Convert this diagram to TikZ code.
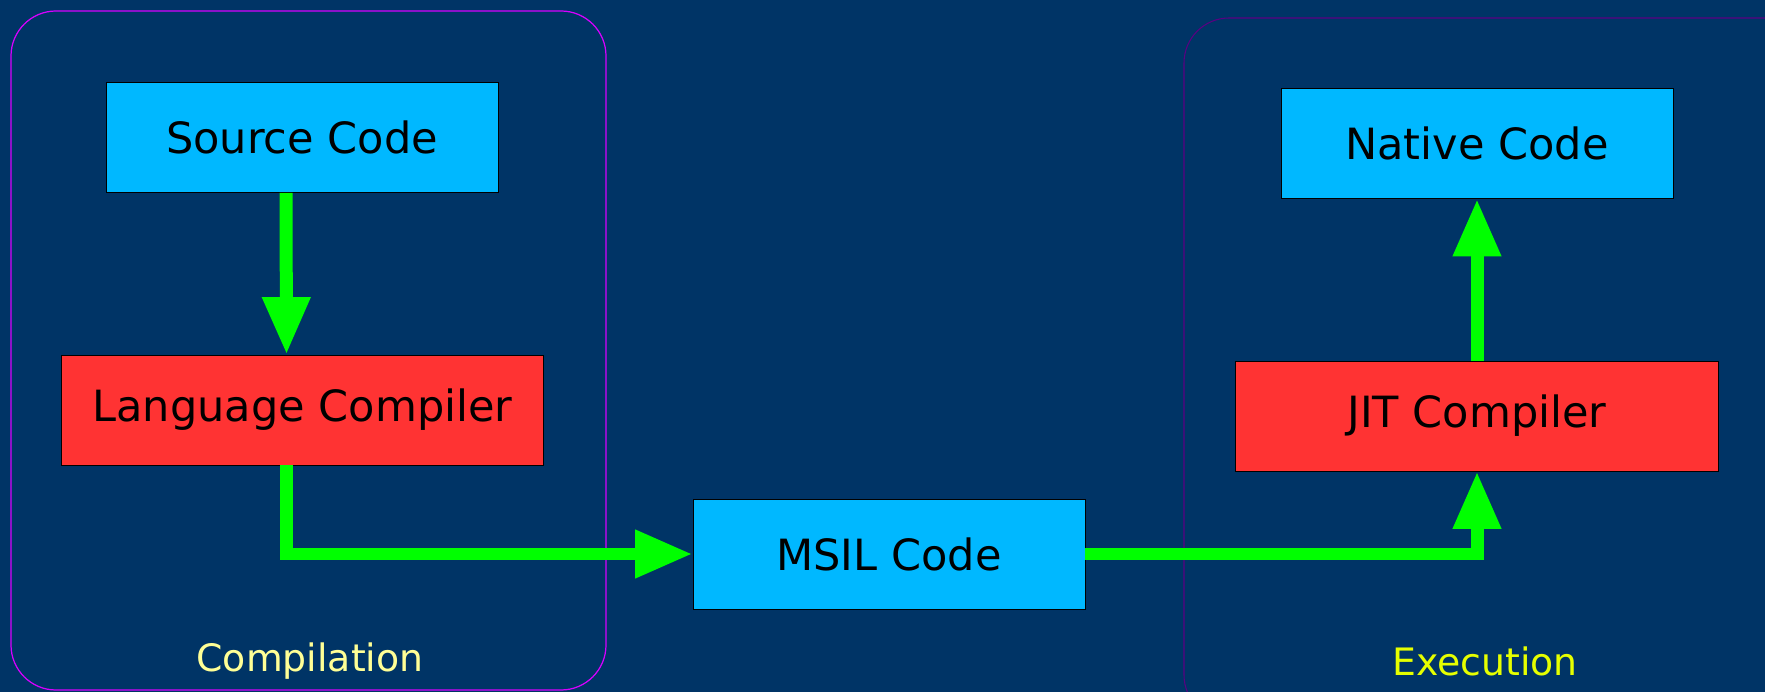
\documentclass[tikz,border=0pt]{standalone}
\usepackage{fontspec}
\setmainfont{DejaVu Sans}
\usetikzlibrary{arrows.meta}
\definecolor{bgblue}{RGB}{0,52,102}
\definecolor{codeblue}{RGB}{0,184,255}
\definecolor{compred}{RGB}{255,51,51}
\definecolor{flowgreen}{RGB}{0,255,0}
\definecolor{leftframe}{RGB}{215,0,255}
\definecolor{rightframe}{RGB}{90,0,130}
\definecolor{labyellow}{RGB}{255,255,150}
\definecolor{exyellow}{RGB}{230,255,0}
\begin{document}
\begin{tikzpicture}[x=0.02cm,y=-0.02cm,
  box/.style={draw=black,line width=0.4pt,inner sep=0pt,
    font=\fontsize{24.5}{29}\selectfont},
  codebox/.style={box,fill=codeblue,minimum width=7.84cm,minimum height=2.2cm},
  compbox/.style={box,fill=compred,minimum width=9.65cm,minimum height=2.2cm},
  flow/.style={draw=flowgreen,line width=0.26cm,line join=miter,
    -{Triangle[width=0.9cm,length=1.15cm]}},
  stage/.style={font=\fontsize{21.5}{26}\selectfont,anchor=base}]
% background
\fill[bgblue] (0,0) rectangle (1765,692);
\useasboundingbox (0,0) rectangle (1765,692);
% stages
\draw[leftframe,line width=0.7pt,rounded corners=0.9cm] (11,11) rectangle (606,690);
\draw[rightframe,line width=0.6pt,rounded corners=0.9cm] (1184,18) rectangle (1830,720);
\node[stage,text=labyellow] (complab) at (310,671) {Compilation};
\node[stage,text=exyellow] (execlab) at (1485,675) {Execution};
% boxes
\node[codebox] (src) at (302,137.5) {Source Code};
\node[compbox] (lang) at (302.5,410) {Language Compiler};
\node[codebox] (msil) at (889,554) {MSIL Code};
\node[codebox] (native) at (1477,143.5) {Native Code};
\node[compbox] (jit) at (1477,416) {JIT Compiler};
% flow
\draw[flow] ([xshift=-0.32cm]src.south) -- ([xshift=-0.32cm]lang.north);
\draw[flow] ([xshift=-0.32cm]lang.south) |- (msil.west);
\draw[flow] (msil.east) -| (jit.south);
\draw[flow] (jit.north) -- (native.south);
\end{tikzpicture}
\end{document}
